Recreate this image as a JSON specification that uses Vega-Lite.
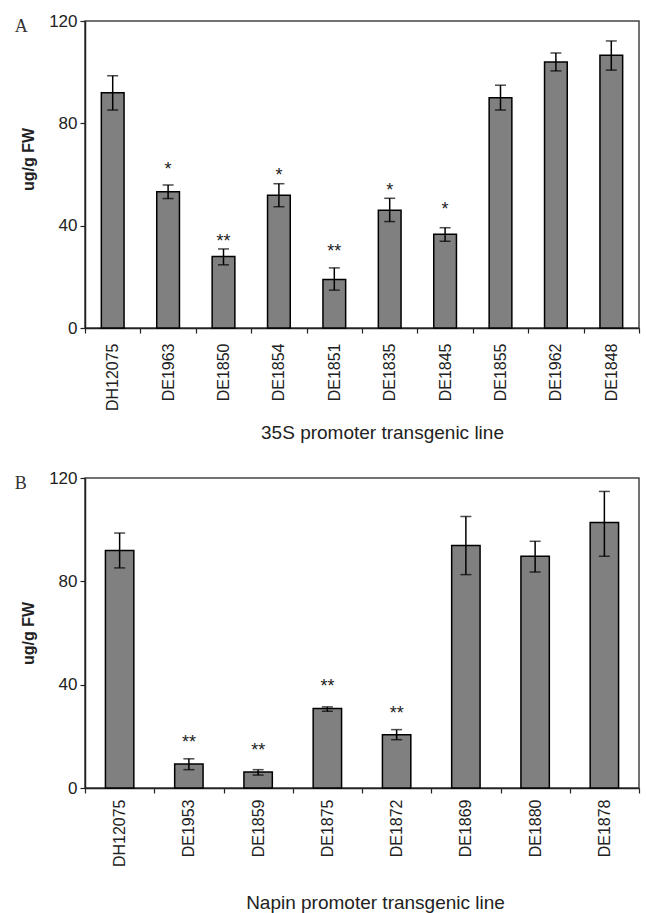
{
  "$schema": "https://vega.github.io/schema/vega-lite/v6.json",
  "background": "white",
  "padding": {"left": 13, "top": 11, "right": 0, "bottom": 0},
  "spacing": 24,
  "config": {
    "font": "Liberation Sans",
    "view": {"stroke": "#444", "strokeWidth": 1.5},
    "axis": {
      "grid": false,
      "domainColor": "#222",
      "domainWidth": 1.5,
      "tickColor": "#222",
      "tickWidth": 1.2,
      "tickSize": 5,
      "labelFont": "Liberation Sans",
      "titleFont": "Liberation Sans",
      "labelColor": "#222",
      "titleColor": "#222"
    },
    "title": {"font": "Liberation Serif", "fontSize": 18, "fontWeight": "normal", "color": "#333"}
  },
  "vconcat": [
    {
      "width": 554,
      "height": 307,
      "title": {"text": "A", "anchor": "start", "frame": "bounds", "dx": -6, "dy": 24, "offset": 0},
      "data": {"values": [
        {"line": "DH12075", "mean": 92.0, "lo": 85.2, "hi": 98.6, "sig": "", "sy": null},
        {"line": "DE1963", "mean": 53.3, "lo": 50.6, "hi": 55.9, "sig": "*", "sy": 61.8},
        {"line": "DE1850", "mean": 27.9, "lo": 24.7, "hi": 30.9, "sig": "**", "sy": 33.8},
        {"line": "DE1854", "mean": 51.9, "lo": 47.4, "hi": 56.4, "sig": "*", "sy": 59.3},
        {"line": "DE1851", "mean": 19.0, "lo": 14.8, "hi": 23.5, "sig": "**", "sy": 29.6},
        {"line": "DE1835", "mean": 46.0, "lo": 41.6, "hi": 50.7, "sig": "*", "sy": 53.6},
        {"line": "DE1845", "mean": 36.6, "lo": 33.9, "hi": 39.2, "sig": "*", "sy": 46.2},
        {"line": "DE1855", "mean": 90.0, "lo": 85.2, "hi": 94.9, "sig": "", "sy": null},
        {"line": "DE1962", "mean": 104.0, "lo": 100.5, "hi": 107.5, "sig": "", "sy": null},
        {"line": "DE1848", "mean": 106.6, "lo": 100.8, "hi": 112.2, "sig": "", "sy": null}
      ]},
      "encoding": {
        "x": {
          "field": "line", "type": "nominal", "sort": null,
          "scale": {"paddingInner": 0, "paddingOuter": 0},
          "axis": {
            "title": "35S promoter transgenic line",
            "titleFontSize": 19, "titleFontWeight": "normal", "titlePadding": 13,
            "titleX": 297,
            "labelAngle": -90, "labelFontSize": 16, "labelPadding": 10,
            "tickBand": "extent"
          }
        }
      },
      "layer": [
        {
          "mark": {"type": "bar", "width": {"band": 0.41}, "fill": "#808080", "stroke": "#000", "strokeWidth": 1.5},
          "encoding": {"y": {"field": "mean", "type": "quantitative", "title": "ug/g FW",
            "scale": {"domain": [0, 120]},
            "axis": {"values": [0, 40, 80, 120], "labelFontSize": 17, "labelPadding": 3,
              "titleFontSize": 16, "titleFontWeight": "bold", "titlePadding": 12, "titleY": 138}}}
        },
        {
          "mark": {"type": "rule", "color": "#000", "strokeWidth": 1.5},
          "encoding": {"y": {"field": "lo", "type": "quantitative", "title": "ug/g FW"}, "y2": {"field": "hi"}}
        },
        {
          "mark": {"type": "tick", "color": "#000", "thickness": 1.5, "size": 11},
          "encoding": {"y": {"field": "lo", "type": "quantitative", "title": "ug/g FW"}}
        },
        {
          "mark": {"type": "tick", "color": "#000", "thickness": 1.5, "size": 11},
          "encoding": {"y": {"field": "hi", "type": "quantitative", "title": "ug/g FW"}}
        },
        {
          "mark": {"type": "text", "fontSize": 18, "baseline": "middle", "color": "#222"},
          "encoding": {"y": {"field": "sy", "type": "quantitative", "title": "ug/g FW"}, "text": {"field": "sig"}}
        }
      ]
    },
    {
      "width": 554,
      "height": 310,
      "title": {"text": "B", "anchor": "start", "frame": "bounds", "dx": -6, "dy": 24, "offset": 0},
      "data": {"values": [
        {"line": "DH12075", "mean": 91.9, "lo": 85.2, "hi": 98.7, "sig": "", "sy": null},
        {"line": "DE1953", "mean": 9.3, "lo": 7.1, "hi": 11.3, "sig": "**", "sy": 17.6},
        {"line": "DE1859", "mean": 6.2, "lo": 5.0, "hi": 7.1, "sig": "**", "sy": 14.4},
        {"line": "DE1875", "mean": 30.8, "lo": 29.7, "hi": 31.4, "sig": "**", "sy": 39.1},
        {"line": "DE1872", "mean": 20.6, "lo": 18.7, "hi": 22.6, "sig": "**", "sy": 28.8},
        {"line": "DE1869", "mean": 93.9, "lo": 82.6, "hi": 105.1, "sig": "", "sy": null},
        {"line": "DE1880", "mean": 89.7, "lo": 83.6, "hi": 95.5, "sig": "", "sy": null},
        {"line": "DE1878", "mean": 102.8, "lo": 89.7, "hi": 114.8, "sig": "", "sy": null}
      ]},
      "encoding": {
        "x": {
          "field": "line", "type": "nominal", "sort": null,
          "scale": {"paddingInner": 0, "paddingOuter": 0},
          "axis": {
            "title": "Napin promoter transgenic line",
            "titleFontSize": 19, "titleFontWeight": "normal", "titlePadding": 27,
            "titleX": 290,
            "labelAngle": -90, "labelFontSize": 16, "labelPadding": 6,
            "tickBand": "extent"
          }
        }
      },
      "layer": [
        {
          "mark": {"type": "bar", "width": {"band": 0.41}, "fill": "#808080", "stroke": "#000", "strokeWidth": 1.5},
          "encoding": {"y": {"field": "mean", "type": "quantitative", "title": "ug/g FW",
            "scale": {"domain": [0, 120]},
            "axis": {"values": [0, 40, 80, 120], "labelFontSize": 17, "labelPadding": 3,
              "titleFontSize": 16, "titleFontWeight": "bold", "titlePadding": 12}}}
        },
        {
          "mark": {"type": "rule", "color": "#000", "strokeWidth": 1.5},
          "encoding": {"y": {"field": "lo", "type": "quantitative", "title": "ug/g FW"}, "y2": {"field": "hi"}}
        },
        {
          "mark": {"type": "tick", "color": "#000", "thickness": 1.5, "size": 11},
          "encoding": {"y": {"field": "lo", "type": "quantitative", "title": "ug/g FW"}}
        },
        {
          "mark": {"type": "tick", "color": "#000", "thickness": 1.5, "size": 11},
          "encoding": {"y": {"field": "hi", "type": "quantitative", "title": "ug/g FW"}}
        },
        {
          "mark": {"type": "text", "fontSize": 18, "baseline": "middle", "color": "#222"},
          "encoding": {"y": {"field": "sy", "type": "quantitative", "title": "ug/g FW"}, "text": {"field": "sig"}}
        }
      ]
    }
  ]
}
